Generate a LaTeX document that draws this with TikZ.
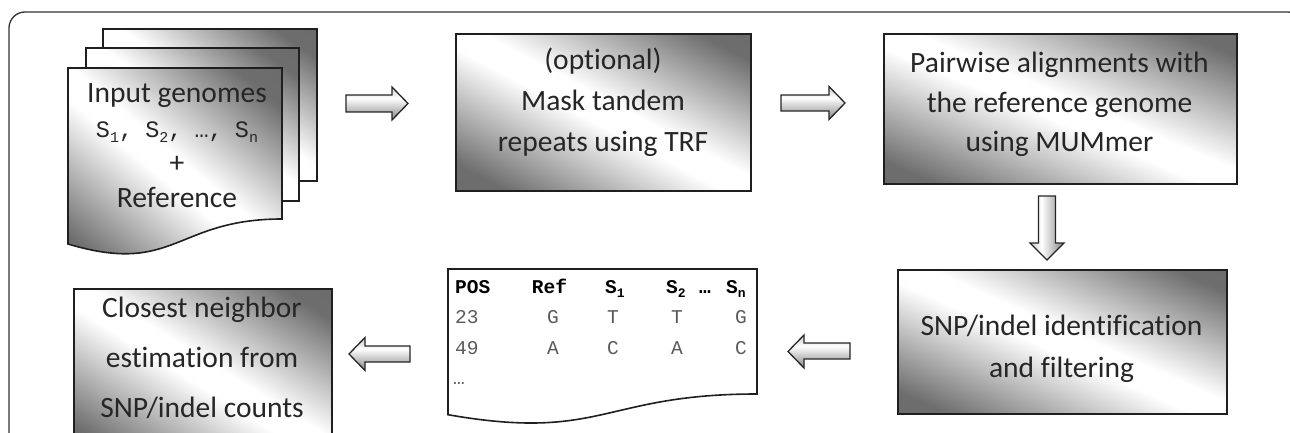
\documentclass[tikz,border=0pt]{standalone}
\usepackage{fontspec}
\setmainfont{Carlito}[Ligatures=NoCommon]
\newfontfamily\monofam{Liberation Mono}
\usetikzlibrary{calc}
\pgfdeclarehorizontalshading{diagshade}{100bp}{color(0bp)=(black!60); color(22bp)=(black!57); color(47bp)=(white); color(53bp)=(white); color(78bp)=(black!57); color(100bp)=(black!60)}
\pgfdeclareverticalshading{arrvshade}{100bp}{color(0bp)=(black!48); color(25bp)=(black!48); color(58bp)=(white); color(75bp)=(black!22); color(100bp)=(black!22)}
\pgfdeclarehorizontalshading{arrhshade}{100bp}{color(0bp)=(black!22); color(25bp)=(black!22); color(42bp)=(white); color(75bp)=(black!48); color(100bp)=(black!48)}
\newcommand\subsc[1]{\raisebox{-0.22em}{\fontsize{15}{15}\selectfont #1}}
\newcommand\hsub[1]{\raisebox{-0.25em}{\fontsize{13}{13}\selectfont #1}}
\tikzset{
  frameline/.style={draw=black!80, line width=1.3pt},
  gbox/.style={draw=black!88, line width=1.6pt, shading=diagshade, inner sep=0pt},
  page/.style={draw=black!88, line width=1.6pt, shading=diagshade},
  tablepage/.style={draw=black!88, line width=1.6pt, fill=white},
  harrow/.style={draw=black!85, line width=1.3pt, shading=arrvshade, line join=miter},
  varrow/.style={draw=black!85, line width=1.3pt, shading=arrhshade, line join=miter},
  txt/.style={align=center, text=black!85, inner sep=0pt},
  mtxt/.style={font=\monofam\fontsize{19.5}{20}\selectfont, inner sep=0pt, text=black!65},
  mhead/.style={font=\monofam\bfseries\fontsize{19.5}{20}\selectfont, inner sep=0pt, text=black}
}
\begin{document}
\begin{tikzpicture}[x=1pt,y=-1pt]
\useasboundingbox (0,0) rectangle (1290,433);
\clip (0,0) rectangle (1290,433);
% outer frame
\draw[frameline, rounded corners=16] (9,470) -- (9,12) -- (1304,12) -- (1304,470);

% stacked input pages
\path[page, shading angle=55] (103,29) rectangle (317,181);
\path[page, shading angle=55] (86,48) rectangle (299,201);
\path[page, shading angle=50] (68,68) -- (282,68) -- (282,219) .. controls (175,219) and (175,276) .. (68,244) -- cycle;
\node[txt, anchor=base, font=\fontsize{29.5}{35}\selectfont] (inputt) at (177,207)
  {Input genomes\\{\monofam\fontsize{23.5}{35}\selectfont S\subsc{1},\kern-2pt\ S\subsc{2},\kern-2pt\ …,\kern-2pt\ S\subsc{n}}\\+\\Reference};

% box 2
\node[gbox, shading angle=62, minimum width=295, minimum height=157, anchor=north west] (mask) at (455,33) {};
\node[txt, anchor=base, font=\fontsize{29.5}{41}\selectfont] (maskt) at (603,152) {(optional)\\Mask tandem\\repeats using TRF};

% box 3
\node[gbox, shading angle=67, minimum width=353, minimum height=150, anchor=north west] (align) at (883,33) {};
\node[txt, anchor=base, font=\fontsize{29.5}{39.5}\selectfont] (alignt) at (1059.5,152) {Pairwise alignments with\\the reference genome\\using MUMmer};

% box 4
\node[gbox, shading angle=66, minimum width=329, minimum height=144, anchor=north west] (snp) at (897,269) {};
\node[txt, anchor=base, font=\fontsize{29.5}{42}\selectfont] (snpt) at (1061.5,377) {SNP/indel identification\\and filtering};

% box 5
\node[gbox, shading angle=58, minimum width=258, minimum height=168, anchor=north west] (nbr) at (73,288) {};
\node[txt, anchor=base, font=\fontsize{29.5}{50}\selectfont] (nbrt) at (202,417) {Closest neighbor\\estimation from\\SNP/indel counts};

% table page
\path[tablepage] (448,269) -- (757,269) -- (757,394) .. controls (602.5,394) and (602.5,441.8) .. (448,414.7) -- cycle;
\node[mhead, anchor=base west] (hpos) at (455,293) {POS};
\node[mhead, anchor=base] (href) at (549.5,293) {Ref};
\node[mhead, anchor=base west] (hs1) at (605,293) {S\hsub{1}};
\node[mhead, anchor=base west] (hs2) at (666,293) {S\hsub{2}};
\node[mhead, anchor=base west] (hdots) at (699,293) {…};
\node[mhead, anchor=base west] (hsn) at (726,293) {S\hsub{n}};
\node[mtxt, anchor=base west] (r1a) at (455,323) {23};
\node[mtxt, anchor=base] (r1b) at (553,323) {G};
\node[mtxt, anchor=base] (r1c) at (613,323) {T};
\node[mtxt, anchor=base] (r1d) at (677,323) {T};
\node[mtxt, anchor=base] (r1e) at (741,323) {G};
\node[mtxt, anchor=base west] (r2a) at (455,354) {49};
\node[mtxt, anchor=base] (r2b) at (553,354) {A};
\node[mtxt, anchor=base] (r2c) at (613,354) {C};
\node[mtxt, anchor=base] (r2d) at (677,354) {A};
\node[mtxt, anchor=base] (r2e) at (741,354) {C};
\node[mtxt, anchor=base west] (r3a) at (453,384) {…};

% block arrows
\path[harrow] (346,95) -- (392,95) -- (392,87) -- (408,103.5) -- (392,120) -- (392,112) -- (346,112) -- cycle;
\path[harrow] (781,95) -- (829,95) -- (829,86.5) -- (845,103) -- (829,119.5) -- (829,111) -- (781,111) -- cycle;
\path[varrow] (1038.5,196) -- (1055.5,196) -- (1055.5,243) -- (1064,243) -- (1047,260) -- (1030,243) -- (1038.5,243) -- cycle;
\path[harrow] (850,343) -- (804,343) -- (804,335) -- (788,351.5) -- (804,368) -- (804,359) -- (850,359) -- cycle;
\path[harrow] (410,346) -- (365,346) -- (365,337.5) -- (349,354) -- (365,370.5) -- (365,362) -- (410,362) -- cycle;
\end{tikzpicture}
\end{document}
